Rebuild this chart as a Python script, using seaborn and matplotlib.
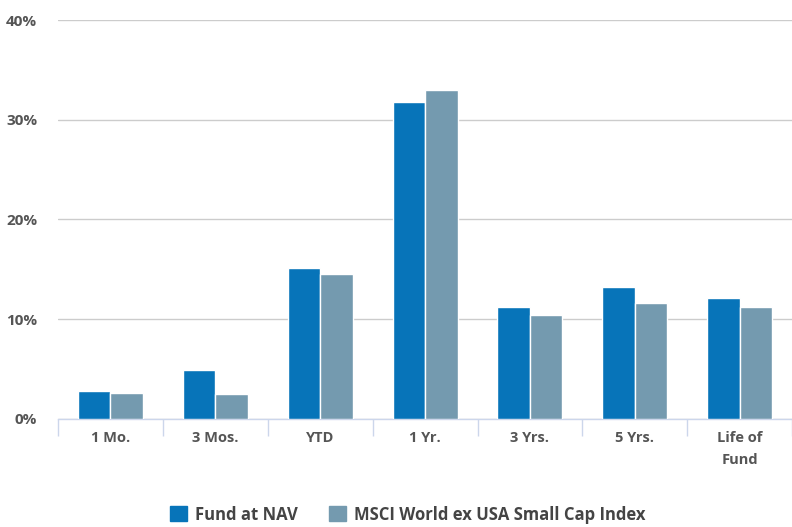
import pandas as pd
import matplotlib.pyplot as plt
import seaborn as sns
from matplotlib.ticker import FuncFormatter, FixedLocator

# Rendimientos por periodo (%)
periodos = ['1 Mo.', '3 Mos.', 'YTD', '1 Yr.', '3 Yrs.', '5 Yrs.', 'Life of\nFund']
fondo = [2.8, 4.9, 15.1, 31.8, 11.2, 13.2, 12.1]
indice = [2.6, 2.5, 14.5, 33.0, 10.4, 11.6, 11.2]
series = ['Fund at NAV', 'MSCI World ex USA Small Cap Index']
colores = ['#0774b9', '#749aaf']

df = pd.DataFrame({
    'Periodo': periodos * 2,
    'Retorno': fondo + indice,
    'Serie': [series[0]] * len(periodos) + [series[1]] * len(periodos),
})

sns.set_style('white')
plt.rcParams['font.family'] = ['Open Sans', 'DejaVu Sans']

fig = plt.figure(figsize=(7.92, 5.27), dpi=100)
ax = fig.add_axes([0.0732, 0.205, 0.927, 0.757])

sns.barplot(data=df, x='Periodo', y='Retorno', hue='Serie', order=periodos,
            hue_order=series, palette=colores, width=0.62, saturation=1,
            edgecolor='white', linewidth=1, ax=ax, zorder=3)

ax.set_ylim(0, 40)
ax.set_xlim(-0.5, len(periodos) - 0.5)
ax.set_yticks([0, 10, 20, 30, 40])
ax.yaxis.set_major_formatter(FuncFormatter(lambda v, p: f'{v:.0f}%'))
ax.grid(axis='y', color='#cccccc', linewidth=1, zorder=0)
ax.set_axisbelow(True)

for s in ['top', 'right', 'left']:
    ax.spines[s].set_visible(False)
ax.spines['bottom'].set_color('#ccd6eb')
ax.spines['bottom'].set_linewidth(1)

ax.xaxis.set_minor_locator(FixedLocator([i - 0.5 for i in range(len(periodos) + 1)]))
ax.tick_params(axis='x', which='minor', length=12, color='#ccd6eb', width=1, bottom=True)
ax.tick_params(axis='x', which='major', length=0, pad=9, labelsize=10.5,
               labelcolor='#555555')
ax.tick_params(axis='y', length=0, pad=15, labelsize=11, labelcolor='#555555')
for lbl in ax.get_xticklabels() + ax.get_yticklabels():
    lbl.set_fontweight('bold')
    lbl.set_linespacing(1.7)

ax.set_xlabel('')
ax.set_ylabel('')

ax.legend_.remove()
handles = [plt.Rectangle((0, 0), 1, 1, color=c) for c in colores]
leg = fig.legend(handles, series, loc='lower center', bbox_to_anchor=(0.515, -0.022),
                 ncol=2, frameon=False, handlelength=1.0, handleheight=1.0,
                 handletextpad=0.5, columnspacing=1.9,
                 prop={'size': 12, 'weight': 'bold'})
for t in leg.get_texts():
    t.set_color('#444444')

plt.savefig('out.png', dpi=100)
